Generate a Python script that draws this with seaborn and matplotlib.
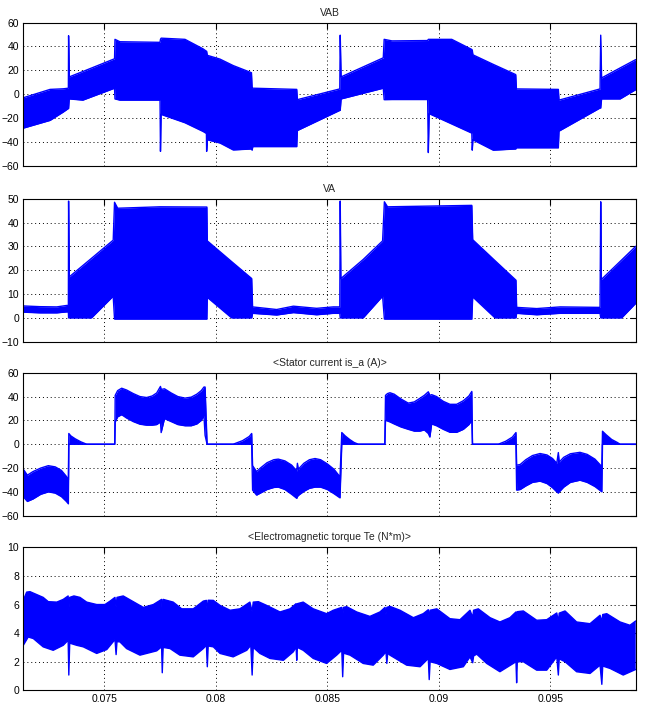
import numpy as np
import matplotlib
matplotlib.use("Agg")
import matplotlib.pyplot as plt
import seaborn as sns

# envelope breakpoints (time in s)
vab_t = [0.07137, 0.07257, 0.07316, 0.07339, 0.07340, 0.07343, 0.07404, 0.07546, 0.07548, 0.07570,
         0.07750, 0.07752, 0.07755, 0.07862, 0.07943, 0.07958, 0.07959, 0.07962, 0.08019, 0.08078,
         0.08160, 0.08163, 0.08166, 0.08363, 0.08366, 0.08556, 0.08558, 0.08562, 0.08751, 0.08755,
         0.08790, 0.08950, 0.08953, 0.08957, 0.09058, 0.09148, 0.09150, 0.09153, 0.09244, 0.09345,
         0.09348, 0.09536, 0.09539, 0.09723, 0.09726, 0.09730, 0.09813, 0.09883]
vab_hi = [-3, 4, 4.5, 5, 49, 14.5, 19, 29.7, 46, 44,
          43.5, 46, 47, 46, 38, 36, 36, 32.6, 29.4, 24,
          18, 5, 5, 4, -4.6, 4.4, 49.5, 14.5, 30.5, 46,
          44.7, 45, 46, 46, 46, 37.5, 37, 33, 25, 16.4,
          4.4, 4, -5, 4.4, 49.5, 13.6, 22, 29]
vab_lo = [-28.5, -22, -15, -12, -12, -4, -5, 5, -4, -5,
          -5, -48, -17, -24, -31.3, -33, -48, -38.3, -41, -46.8,
          -46, -47, -44, -44, -30.5, -13.6, -13.6, -4, 5, -4.6,
          -4.5, -4.5, -49, -16.4, -25, -32.7, -47, -38.3, -47, -46,
          -45, -45, -31, -11.6, -11.6, -4, -4, 3.8]

va_t = [0.07137, 0.07212, 0.07287, 0.07331, 0.07339, 0.07340, 0.07343, 0.07443, 0.07540, 0.07546,
        0.07560, 0.07750, 0.07960, 0.07962, 0.08071, 0.08161, 0.08165, 0.08273, 0.08348, 0.08452,
        0.08527, 0.08556, 0.08558, 0.08561, 0.08661, 0.08748, 0.08756, 0.08770, 0.09148, 0.09152,
        0.09252, 0.09346, 0.09349, 0.09439, 0.09544, 0.09723, 0.09726, 0.09729, 0.09820, 0.09883]
va_hi = [5.0, 4.7, 4.6, 5.2, 5.2, 49, 17.2, 25, 32.6, 48.5,
         46, 46.6, 46.5, 32.3, 23.6, 16.5, 4.6, 3.5, 4.9, 4.0,
         4.6, 4.6, 49, 16.5, 24.5, 32.3, 48.7, 46.6, 47.2, 32.8,
         24, 15.8, 4.4, 3.9, 4.6, 4.4, 48.7, 16.1, 24.3, 30]
va_lo = [2.4, 2.1, 2.1, 2.5, 2.5, 0, 0, 0, 9.1, -0.5,
         -0.5, -0.5, -0.5, 8.6, 0, 0, 1.9, 1.2, 2.2, 1.3,
         1.9, 1.9, 0, 0, 0, 9.1, -0.5, -0.5, -0.5, 8.8,
         0, 0, 1.9, 1.3, 1.9, 1.9, 0, 0, 0, 6.1]

ia_t = [0.07137, 0.07155, 0.07180, 0.07215, 0.07249, 0.07280, 0.07308, 0.07330, 0.07339,
        0.07341, 0.07350, 0.07370, 0.07395, 0.07421, 0.07547,
        0.07549, 0.07560, 0.07578, 0.07600, 0.07630, 0.07660, 0.07690, 0.07715, 0.07735, 0.07752,
        0.07755, 0.07770, 0.07800, 0.07830, 0.07862, 0.07890, 0.07915, 0.07935, 0.07947, 0.07952,
        0.07961, 0.08078, 0.08120, 0.08150, 0.08161,
        0.08165, 0.08183, 0.08200, 0.08230, 0.08260, 0.08280, 0.08310, 0.08340, 0.08363, 0.08366,
        0.08370, 0.08395, 0.08420, 0.08445, 0.08470, 0.08500, 0.08530, 0.08557,
        0.08565, 0.08580, 0.08600, 0.08620, 0.08639, 0.08758,
        0.08761, 0.08770, 0.08781, 0.08800, 0.08830, 0.08863, 0.08890, 0.08915, 0.08935, 0.08953,
        0.08960, 0.08968, 0.08990, 0.09020, 0.09050, 0.09080, 0.09110, 0.09135, 0.09148,
        0.09151, 0.09267, 0.09300, 0.09330, 0.09346,
        0.09349, 0.09365, 0.09390, 0.09420, 0.09454, 0.09485, 0.09510, 0.09529, 0.09536, 0.09540,
        0.09560, 0.09590, 0.09633, 0.09665, 0.09700, 0.09731,
        0.09734, 0.09750, 0.09775, 0.09800, 0.09813, 0.09883]
ia_hi = [-21, -26, -23, -20, -18, -19, -22, -27, -30,
         9, 7, 4.5, 2, 0, 0,
         41, 45, 47, 45.5, 42.5, 40, 39.2, 40.5, 43, 48.5,
         46, 46.5, 43, 40, 38.7, 39.5, 42, 45, 48, 48,
         0, 0, 3, 6.5, 9,
         -18, -23, -20, -15.5, -13, -12.5, -14, -17.5, -22.4, -16,
         -21, -16, -13, -12, -13, -16.5, -21, -27.4,
         9.8, 7, 4, 1.5, 0, 0,
         41, 42.5, 43.2, 42, 38, 34.5, 35.5, 38.5, 41, 44,
         41, 41.6, 40, 36, 33.5, 33.5, 36.5, 40.5, 44.3,
         0, 0, 2.5, 6, 9.8,
         -17.6, -17, -13, -9.5, -7.8, -9, -12, -16, -7, -15,
         -11, -8, -6.8, -8.5, -12.5, -18.8,
         10.9, 8, 4, 1.5, 0, 0]
ia_lo = [-44, -48, -46, -42, -40, -41, -44, -48, -50,
         0, 0, 0, 0, 0, 0,
         18.7, 23, 24.8, 22, 19, 16.8, 16, 16, 16.5, 18.7,
         9.8, 21.5, 19, 16.5, 15.5, 15.5, 17, 20, 24, 7.5,
         0, 0, 0, 0, 0,
         -38.5, -42.7, -41, -38, -36.3, -36, -38, -42, -45.4, -44,
         -43, -39.5, -37, -36, -36, -38, -41.5, -45,
         0, 0, 0, 0, 0, 0,
         20, 19.5, 18.7, 17, 14.5, 12.5, 11, 11, 12, 9,
         6, 17, 15.5, 12.5, 10, 10, 12.5, 16.5, 20,
         0, 0, 0, 0, 0,
         -38.5, -38, -35, -32, -31, -33, -36.5, -40, -41, -40,
         -36, -32, -30.2, -32, -35.5, -39.9,
         0, 0, 0, 0, 0, 0]

te_hi_t = [0.07137, 0.07152, 0.07167, 0.07226, 0.07249, 0.07287, 0.07316, 0.07338, 0.07341, 0.07345,
           0.07364, 0.07391, 0.07421, 0.07466, 0.07503, 0.07526, 0.07548, 0.07553, 0.07557, 0.07585,
           0.07630, 0.07675, 0.07720, 0.07757, 0.07760, 0.07764, 0.07809, 0.07847, 0.07899, 0.07944,
           0.07958, 0.07962, 0.07966, 0.07989, 0.08019, 0.08064, 0.08108, 0.08153, 0.08163, 0.08168,
           0.08191, 0.08228, 0.08288, 0.08333, 0.08360, 0.08363, 0.08366, 0.08392, 0.08437, 0.08497,
           0.08527, 0.08565, 0.08569, 0.08573, 0.08587, 0.08632, 0.08691, 0.08736, 0.08759, 0.08763,
           0.08767, 0.08781, 0.08826, 0.08886, 0.08930, 0.08953, 0.08957, 0.08961, 0.08991, 0.09050,
           0.09095, 0.09140, 0.09152, 0.09156, 0.09177, 0.09230, 0.09274, 0.09319, 0.09346, 0.09349,
           0.09352, 0.09379, 0.09439, 0.09484, 0.09529, 0.09536, 0.09540, 0.09566, 0.09618, 0.09678,
           0.09723, 0.09731, 0.09735, 0.09753, 0.09813, 0.09857, 0.09883]
te_hi = [6.3, 6.87, 6.9, 6.5, 6.2, 6.17, 6.36, 6.6, 5.6, 6.5,
         6.6, 6.5, 6.17, 6.0, 6.0, 6.24, 6.5, 5.8, 6.5, 6.6,
         6.2, 5.8, 6.0, 6.36, 5.36, 6.36, 6.17, 5.7, 5.7, 6.24,
         6.29, 5.36, 6.3, 6.29, 5.94, 5.6, 5.7, 6.17, 5.5, 6.17,
         6.2, 5.94, 5.48, 5.7, 6.06, 5.6, 6.06, 6.17, 5.7, 5.36,
         5.6, 5.8, 5.13, 5.8, 5.85, 5.48, 5.17, 5.48, 5.8, 5.3,
         5.8, 5.87, 5.6, 5.08, 5.36, 5.64, 5.0, 5.6, 5.7, 5.01,
         4.94, 5.6, 5.1, 5.6, 5.7, 5.08, 4.78, 5.08, 5.48, 4.43,
         5.5, 5.55, 4.9, 4.94, 5.41, 4.78, 5.4, 5.55, 4.78, 4.66,
         5.25, 4.78, 5.3, 5.36, 4.78, 4.55, 4.85]
te_lo_t = [0.07137, 0.07159, 0.07182, 0.07226, 0.07271, 0.07316, 0.07338, 0.07341, 0.07345, 0.07376,
           0.07406, 0.07466, 0.07511, 0.07548, 0.07553, 0.07557, 0.07570, 0.07600, 0.07660, 0.07735,
           0.07757, 0.07760, 0.07764, 0.07795, 0.07839, 0.07899, 0.07944, 0.07958, 0.07962, 0.07966,
           0.07989, 0.08019, 0.08078, 0.08139, 0.08157, 0.08163, 0.08168, 0.08198, 0.08243, 0.08303,
           0.08348, 0.08360, 0.08363, 0.08366, 0.08392, 0.08437, 0.08497, 0.08542, 0.08565, 0.08569,
           0.08573, 0.08602, 0.08661, 0.08706, 0.08751, 0.08763, 0.08767, 0.08771, 0.08781, 0.08856,
           0.08916, 0.08953, 0.08957, 0.08961, 0.08991, 0.09050, 0.09110, 0.09140, 0.09152, 0.09156,
           0.09170, 0.09215, 0.09274, 0.09334, 0.09346, 0.09349, 0.09352, 0.09379, 0.09439, 0.09484,
           0.09529, 0.09536, 0.09540, 0.09566, 0.09618, 0.09678, 0.09723, 0.09731, 0.09735, 0.09768,
           0.09827, 0.09883]
te_lo = [3.15, 3.73, 3.62, 3.04, 2.8, 3.15, 3.5, 1.07, 3.3, 3.15,
         3.04, 2.58, 2.85, 3.55, 2.5, 3.4, 3.39, 2.92, 2.46, 2.76,
         3.04, 1.23, 3.0, 2.92, 2.46, 2.34, 2.92, 3.15, 1.65, 3.1,
         3.04, 2.58, 2.34, 2.8, 3.15, 1.07, 3.0, 2.58, 2.23, 2.1,
         2.7, 3.04, 2.1, 3.0, 2.8, 2.23, 1.88, 2.46, 2.8, 0.95,
         2.6, 2.46, 1.88, 1.76, 2.46, 2.7, 1.88, 2.6, 2.46, 1.76,
         1.65, 2.23, 0.75, 2.0, 1.88, 1.46, 1.65, 2.34, 1.93, 2.4,
         2.53, 1.88, 1.3, 1.88, 2.0, 0.53, 2.0, 2.0, 1.41, 1.41,
         2.34, 1.07, 2.2, 2.0, 1.3, 1.18, 1.76, 0.42, 1.7, 1.53,
         1.07, 1.46]

titles = ["VAB", "VA", "<Stator current is_a (A)>", "<Electromagnetic torque Te (N*m)>"]
xticks = [0.075, 0.08, 0.085, 0.09, 0.095]
xtick_labels = ["0.075", "0.08", "0.085", "0.09", "0.095"]
yticks = [np.arange(-60, 61, 20), np.arange(-10, 51, 10), np.arange(-60, 61, 20), np.arange(0, 11, 2)]

sns.set_style("white")
plt.rcParams['font.family'] = ['Liberation Sans', 'DejaVu Sans']
blue = (0, 0, 1)

fig = plt.figure(figsize=(6.46, 7.15), dpi=100)
bottoms = [0.7683, 0.5221, 0.2787, 0.0345]
axes = [fig.add_axes([0.0361, b, 0.948, 0.2]) for b in bottoms]

def trace(ax, t, hi, lo):
    ax.fill_between(t, lo, hi, color=blue, lw=0)
    sns.lineplot(x=t, y=hi, ax=ax, color=blue, lw=1, estimator=None, sort=False)
    sns.lineplot(x=t, y=lo, ax=ax, color=blue, lw=1, estimator=None, sort=False)

trace(axes[0], vab_t, vab_hi, vab_lo)
trace(axes[1], va_t, va_hi, va_lo)
trace(axes[2], ia_t, ia_hi, ia_lo)

# torque: upper and lower edges have their own time bases
ax = axes[3]
ax.fill(np.r_[te_hi_t, te_lo_t[::-1]], np.r_[te_hi, te_lo[::-1]], color=blue, lw=0)
sns.lineplot(x=te_hi_t, y=te_hi, ax=ax, color=blue, lw=1, estimator=None, sort=False)
sns.lineplot(x=te_lo_t, y=te_lo, ax=ax, color=blue, lw=1, estimator=None, sort=False)

for i, ax in enumerate(axes):
    ax.set_xlim(0.07137, 0.09883)
    ax.set_ylim(yticks[i][0], yticks[i][-1])
    ax.set_yticks(yticks[i])
    ax.set_xticks(xticks)
    if i == 3:
        ax.set_xticklabels(xtick_labels)
    else:
        ax.set_xticklabels([])
    ax.set_title(titles[i], fontsize=7.5, pad=5)
    ax.set_xlabel("")
    ax.set_ylabel("")
    ax.grid(True, color='k', linestyle=(0, (1, 3)), linewidth=0.7)
    ax.tick_params(direction='in', top=True, right=True, length=4, width=0.8,
                   labelsize=7.5, pad=3, colors='k')
    for s in ax.spines.values():
        s.set_color('k')
        s.set_linewidth(0.8)

plt.savefig('out.png', dpi=100)
